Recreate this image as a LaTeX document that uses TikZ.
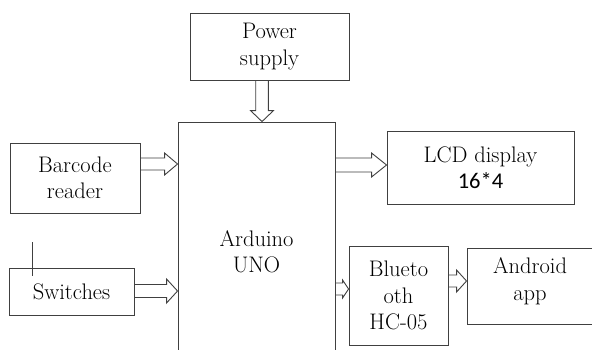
\documentclass[tikz,border=0pt]{standalone}
\usepackage{fontspec}
\newfontfamily\digitfont{Carlito}
\usetikzlibrary{calc}
\tikzset{
  box/.style={draw=black!75, line width=0.9pt, rectangle, inner sep=0pt, align=center,
    font=\rmfamily\fontsize{22.5}{26.5}\selectfont},
  lbl/.style={inner sep=0pt, align=center, font=\rmfamily\fontsize{22.5}{26.5}\selectfont},
  arr/.style={draw=black!75, line width=0.9pt, line join=miter},
}
% horizontal hollow arrow: from, to, y, shaft half, head half, head length
\newcommand\hollowR[6]{%
\draw[arr] let \p1=(#1.east), \p2=(#2.west), \p3=(0,#3) in
 (\x1,\y3+#4pt) -- (\x2-#6pt,\y3+#4pt) -- (\x2-#6pt,\y3+#5pt) -- (\x2,\y3)
 -- (\x2-#6pt,\y3-#5pt) -- (\x2-#6pt,\y3-#4pt) -- (\x1,\y3-#4pt);}
% vertical (downward) hollow arrow: from, to, x, shaft half, head half, head length
\newcommand\hollowD[6]{%
\draw[arr] let \p1=(#1.south), \p2=(#2.north), \p3=(#3,0) in
 (\x3-#4pt,\y1) -- (\x3-#4pt,\y2+#6pt) -- (\x3-#5pt,\y2+#6pt) -- (\x3,\y2)
 -- (\x3+#5pt,\y2+#6pt) -- (\x3+#4pt,\y2+#6pt) -- (\x3+#4pt,\y1);}
\begin{document}
\begin{tikzpicture}[x=1pt,y=-1pt]
\useasboundingbox (0,0) rectangle (592,349);
\clip (0,0) rectangle (592,349);
\fill[white] (0,0) rectangle (592,349);

\node[box, minimum width=159pt, minimum height=67pt] (ps) at (269.5,46.5) {Power\\supply};
\node[box, minimum width=157pt, minimum height=240pt] (ard) at (256.5,242) {};
\node[lbl] (ardtxt) at (256.5,251.5) {Arduino\\UNO};
\node[box, minimum width=130pt, minimum height=70pt] (bar) at (75,178) {Barcode\\reader};
\node[box, minimum width=125pt, minimum height=47pt] (sw) at (71.5,291.5) {Switches};
\node[box, minimum width=187pt, minimum height=73pt] (lcd) at (480.5,167.5) {LCD display\\{\digitfont 16*4}};
\node[box, minimum width=99pt, minimum height=99pt] (bt) at (398.5,295.5) {Blueto\\oth\\HC-05};
\node[box, minimum width=126pt, minimum height=76pt] (and) at (530,286) {};
\node[lbl] (andtxt) at (530,281) {Android\\app};

\coordinate (m1) at (32,242);
\coordinate (m2) at (32,276);
\draw[arr] (m1) -- (m2);

\hollowD{ps}{ard}{262}{6.3}{11.5}{11}
\hollowR{bar}{ard}{164}{6}{11}{13}
\hollowR{sw}{ard}{291}{6.5}{12}{11}
\hollowR{ard}{lcd}{165}{7}{12}{15}
\hollowR{ard}{bt}{289}{6}{9}{6}
\hollowR{bt}{and}{281}{6}{11}{10}
\end{tikzpicture}
\end{document}
